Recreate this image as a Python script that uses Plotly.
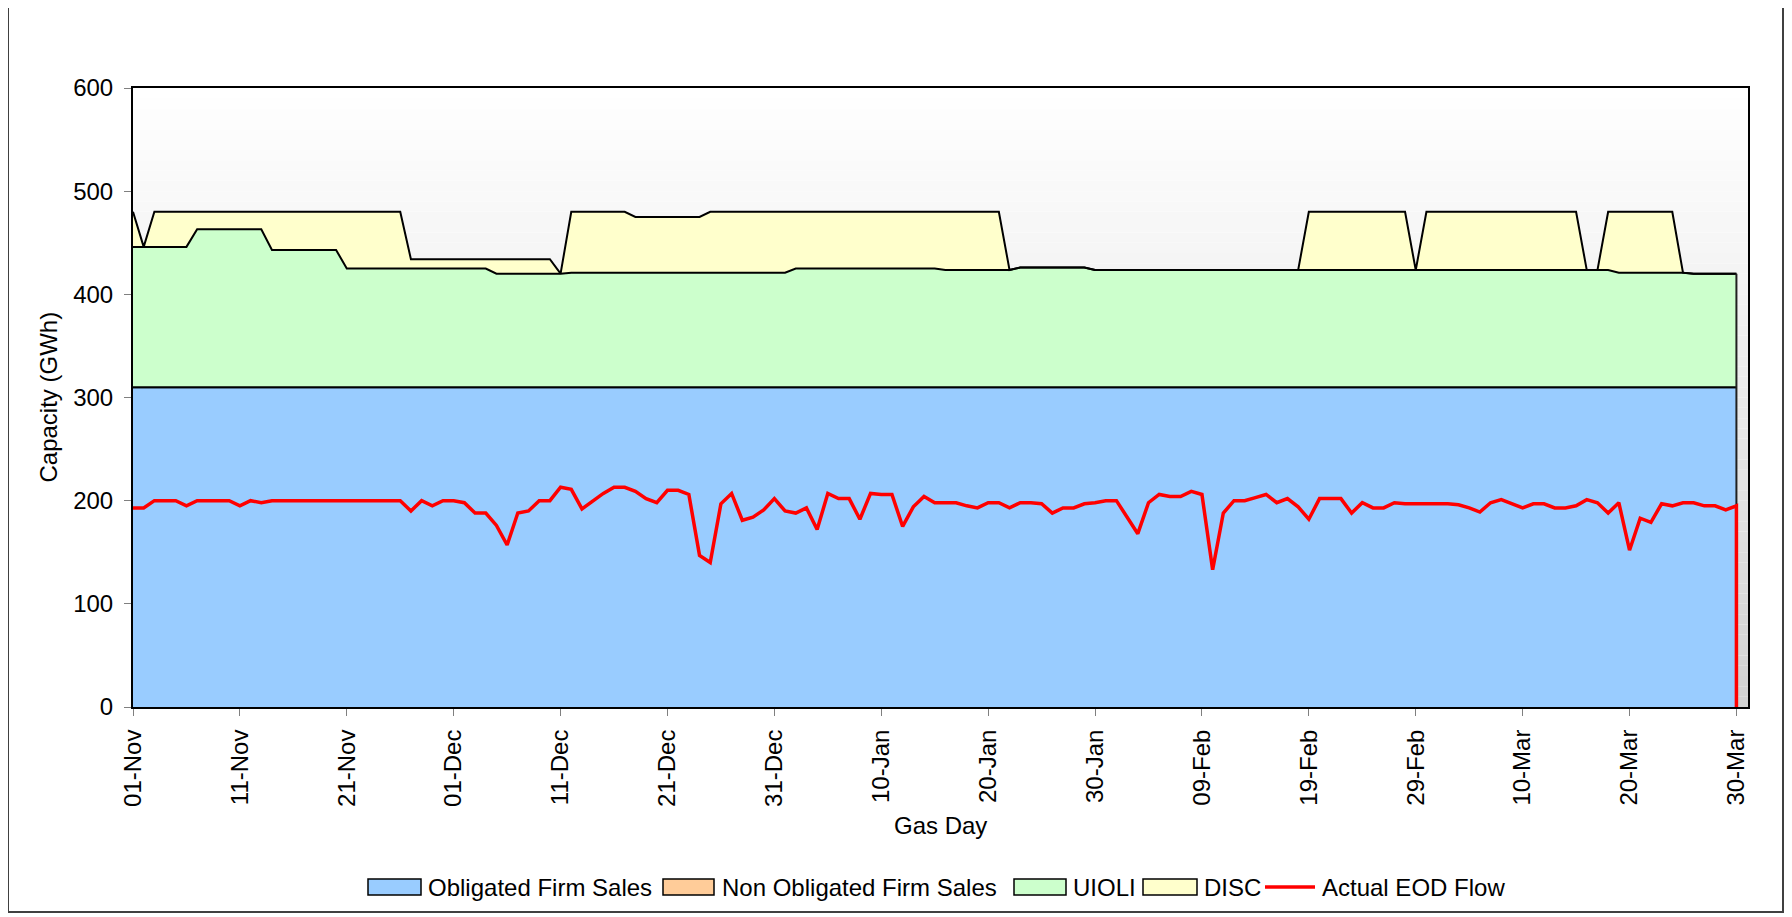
import pandas as pd
import plotly.graph_objects as go

# ---------------- data ----------------
gas_days = pd.date_range("2007-11-01", "2008-03-30", freq="D")

obligated = [310] * len(gas_days)
non_obligated = [0] * len(gas_days)

uioli = [
    136, 136, 136, 136, 136, 136, 153, 153, 153, 153,
    153, 153, 153, 133, 133, 133, 133, 133, 133, 133,
    115, 115, 115, 115, 115, 115, 115, 115, 115, 115,
    115, 115, 115, 115, 110, 110, 110, 110, 110, 110,
    110, 111, 111, 111, 111, 111, 111, 111, 111, 111,
    111, 111, 111, 111, 111, 111, 111, 111, 111, 111,
    111, 111, 115, 115, 115, 115, 115, 115, 115, 115,
    115, 115, 115, 115, 115, 115, 113.5, 113.5, 113.5, 113.5,
    113.5, 113.5, 113.5, 116, 116, 116, 116, 116, 116, 116,
    113.5, 113.5, 113.5, 113.5, 113.5, 113.5, 113.5, 113.5, 113.5, 113.5,
    113.5, 113.5, 113.5, 113.5, 113.5, 113.5, 113.5, 113.5, 113.5, 113.5,
    113.5, 113.5, 113.5, 113.5, 113.5, 113.5, 113.5, 113.5, 113.5, 113.5,
    113.5, 113.5, 113.5, 113.5, 113.5, 113.5, 113.5, 113.5, 113.5, 113.5,
    113.5, 113.5, 113.5, 113.5, 113.5, 113.5, 113.5, 113.5, 113.5, 111,
    111, 111, 111, 111, 111, 111, 110, 110, 110, 110,
    110,
]

disc = [
    34, 0, 34, 34, 34, 34, 17, 17, 17, 17,
    17, 17, 17, 37, 37, 37, 37, 37, 37, 37,
    55, 55, 55, 55, 55, 55, 9, 9, 9, 9,
    9, 9, 9, 9, 14, 14, 14, 14, 14, 14,
    0, 59, 59, 59, 59, 59, 59, 54, 54, 54,
    54, 54, 54, 54, 59, 59, 59, 59, 59, 59,
    59, 59, 55, 55, 55, 55, 55, 55, 55, 55,
    55, 55, 55, 55, 55, 55, 56.5, 56.5, 56.5, 56.5,
    56.5, 56.5, 0, 0, 0, 0, 0, 0, 0, 0,
    0, 0, 0, 0, 0, 0, 0, 0, 0, 0,
    0, 0, 0, 0, 0, 0, 0, 0, 0, 0,
    56.5, 56.5, 56.5, 56.5, 56.5, 56.5, 56.5, 56.5, 56.5, 56.5,
    0, 56.5, 56.5, 56.5, 56.5, 56.5, 56.5, 56.5, 56.5, 56.5,
    56.5, 56.5, 56.5, 56.5, 56.5, 56.5, 0, 0, 56.5, 59,
    59, 59, 59, 59, 59, 0, 0, 0, 0, 0,
    0,
]

actual_flow = [
    193, 193, 200, 200, 200, 195, 200, 200, 200, 200,
    195, 200, 198, 200, 200, 200, 200, 200, 200, 200,
    200, 200, 200, 200, 200, 200, 190, 200, 195, 200,
    200, 198, 188, 188, 176, 157, 188, 190, 200, 200,
    213, 211, 192, 200, 207, 213, 213, 209, 202, 198,
    210, 210, 206, 147, 140, 197, 207, 181, 184, 191,
    202, 190, 188, 193, 172, 207, 202, 202, 182, 207,
    206, 206, 175, 194, 204, 198, 198, 198, 195, 193,
    198, 198, 193, 198, 198, 197, 188, 193, 193, 197,
    198, 200, 200, 184, 168, 198, 206, 204, 204, 209,
    206, 133, 188, 200, 200, 203, 206, 198, 202, 194,
    182, 202, 202, 202, 188, 198, 193, 193, 198, 197,
    197, 197, 197, 197, 196, 193, 189, 198, 201, 197,
    193, 197, 197, 193, 193, 195, 201, 198, 188, 198,
    152, 183, 179, 197, 195, 198, 198, 195, 195, 191,
    195,
]
flow_end_value = 0  # line drops to zero after the last gas day

y_ticks = [0, 100, 200, 300, 400, 500, 600]

# ---------------- styling ----------------
FONT = "Liberation Sans, Arial, sans-serif"
FS = 24
area_specs = [
    ("Obligated Firm Sales", obligated, "#99ccff"),
    ("Non Obligated Firm Sales", non_obligated, "#ffcc99"),
    ("UIOLI", uioli, "#ccffcc"),
    ("DISC", disc, "#ffffcc"),
]
FLOW_COLOR = "#ff0000"

fig = go.Figure()
for name, vals, col in area_specs:
    fig.add_trace(go.Scatter(
        x=gas_days, y=vals, name=name, mode="lines",
        stackgroup="cap", fillcolor=col,
        line=dict(color="black", width=2),
        hoverinfo="skip", showlegend=False,
    ))

total_last = obligated[-1] + non_obligated[-1] + uioli[-1] + disc[-1]
fig.add_trace(go.Scatter(
    x=[gas_days[-1], gas_days[-1]], y=[0, total_last], mode="lines",
    line=dict(color="#202020", width=2), showlegend=False, hoverinfo="skip",
))

fig.add_trace(go.Scatter(
    x=list(gas_days) + [gas_days[-1]], y=actual_flow + [flow_end_value],
    name="Actual EOD Flow", mode="lines",
    line=dict(color=FLOW_COLOR, width=3.5),
    hoverinfo="skip", showlegend=False,
))

# ---------------- geometry (page has an 8px body offset) ----------------
OFF = 8
W, H = 1792 - OFF, 917 - OFF
L, R, T, B = 125, 44, 80, 210
pw, ph = W - L - R, H - T - B


def px_x(px):  # reference pixel -> paper x
    return (px - OFF - L) / pw


def px_y(py):  # reference pixel -> paper y
    return (H - B - (py - OFF)) / ph


shapes = []
# plot-area gradient background (white at top, grey toward bottom)
nb = 60
for i in range(nb):
    y0 = 600 * i / nb
    y1 = 600 * (i + 1) / nb
    v = (y0 + y1) / 2
    if v >= 420:
        c = 244 + (v - 420) / 180 * 11
    else:
        c = 208 + v / 420 * 36
    c = int(round(c))
    shapes.append(dict(type="rect", xref="paper", yref="y", x0=0, x1=1,
                       y0=y0, y1=y1, fillcolor=f"rgb({c},{c},{c})",
                       line=dict(width=0), layer="below"))

# outer chart frame
shapes.append(dict(type="rect", xref="paper", yref="paper",
                   x0=px_x(8), x1=px_x(1783), y0=px_y(912), y1=px_y(6),
                   line=dict(color="#404040", width=2), fillcolor="rgba(0,0,0,0)",
                   layer="above"))

# manual legend (boxes like the original)
legend_items = [
    ("Obligated Firm Sales", "#99ccff", "box", 368, 421, 426),
    ("Non Obligated Firm Sales", "#ffcc99", "box", 663, 714, 720),
    ("UIOLI", "#ccffcc", "box", 1014, 1066, 1071),
    ("DISC", "#ffffcc", "box", 1143, 1197, 1202),
    ("Actual EOD Flow", FLOW_COLOR, "line", 1265, 1315, 1320),
]
LEG_Y = 887
annotations = []
for text, col, kind, bx0, bx1, tx in legend_items:
    if kind == "box":
        shapes.append(dict(type="rect", xref="paper", yref="paper",
                           x0=px_x(bx0), x1=px_x(bx1),
                           y0=px_y(LEG_Y + 8), y1=px_y(LEG_Y - 8),
                           fillcolor=col, line=dict(color="black", width=1.5),
                           layer="above"))
    else:
        shapes.append(dict(type="line", xref="paper", yref="paper",
                           x0=px_x(bx0), x1=px_x(bx1),
                           y0=px_y(LEG_Y), y1=px_y(LEG_Y),
                           line=dict(color=col, width=3.5), layer="above"))
    annotations.append(dict(text=text, xref="paper", yref="paper",
                            x=px_x(tx), y=px_y(LEG_Y), showarrow=False,
                            xanchor="left", yanchor="middle",
                            font=dict(size=FS)))

annotations += [
    dict(text="Capacity (GWh)", xref="paper", yref="paper",
         x=px_x(48), y=0.5, textangle=-90, showarrow=False,
         xanchor="center", yanchor="middle", font=dict(size=FS)),
    dict(text="Gas Day", xref="paper", yref="paper",
         x=0.5, y=px_y(825), showarrow=False,
         xanchor="center", yanchor="middle", font=dict(size=FS)),
]

x_end = gas_days[-1] + pd.Timedelta(hours=26)

fig.update_layout(
    width=W, height=H,
    margin=dict(l=L, r=R, t=T, b=B, pad=0, autoexpand=False),
    paper_bgcolor="white", plot_bgcolor="white",
    font=dict(family=FONT, size=FS, color="black"),
    showlegend=False,
    shapes=shapes,
    annotations=annotations,
)

fig.update_xaxes(
    type="date", range=[gas_days[0], x_end],
    tick0=gas_days[0], dtick=10 * 86400000, tickformat="%d-%b",
    tickangle=-90, ticks="outside", ticklen=7, tickcolor="#808080",
    tickfont=dict(size=FS), showgrid=False, zeroline=False,
    showline=True, linecolor="black", linewidth=2, mirror=True,
    ticklabelstandoff=4,
)
fig.update_yaxes(
    range=[0, 600], tickvals=y_ticks, ticks="outside", ticklen=7,
    tickcolor="#808080", tickfont=dict(size=FS), showgrid=False,
    zeroline=False, showline=True, linecolor="black", linewidth=2,
    mirror=True, ticklabelstandoff=6,
)

fig.write_html("out.html")
